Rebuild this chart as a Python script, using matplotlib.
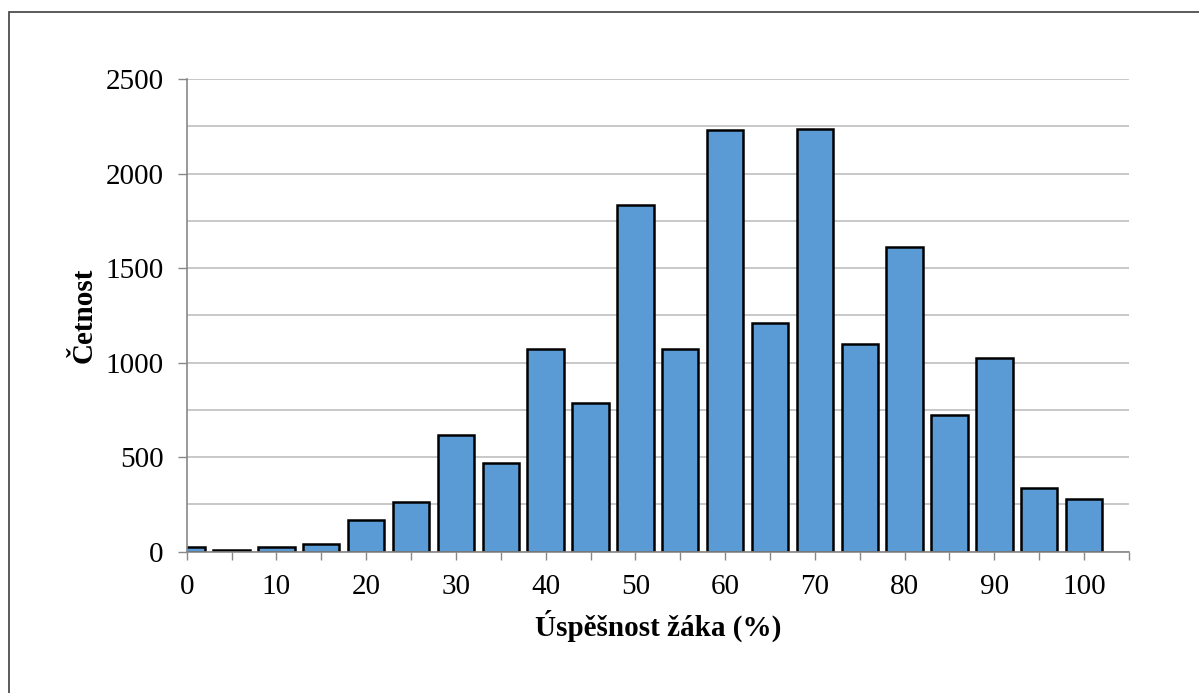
import matplotlib
matplotlib.use("Agg")
import matplotlib.pyplot as plt
import matplotlib.patches as mpatches
import numpy as np

plt.rcParams["font.family"] = ["Liberation Serif", "DejaVu Serif"]

# Score bins (%) and number of students in each
score_bins = [0, 5, 10, 15, 20, 25, 30, 35, 40, 45, 50,
              55, 60, 65, 70, 75, 80, 85, 90, 95, 100]
counts = [26, 10, 23, 39, 167, 262, 618, 468, 1074, 784, 1832,
          1072, 2232, 1212, 2236, 1099, 1612, 723, 1025, 335, 278]

x_major = [0, 10, 20, 30, 40, 50, 60, 70, 80, 90, 100]
y_major = [0, 500, 1000, 1500, 2000, 2500]

C_BAR  = "#5B9BD5"
C_GRID = "#BFBFBF"
C_AXIS = "#888888"

fig = plt.figure(figsize=(11.99, 6.93), dpi=100)
ax = fig.add_axes([0.1557, 0.2039, 0.9416 - 0.1557, 0.886 - 0.2039])

# chart-area frame (only left/top edges fall inside the image)
frame = mpatches.Rectangle((9 / 1199, -0.05), 1.2, 1 - 12 / 693 + 0.05,
                           transform=fig.transFigure, fill=False,
                           edgecolor="#404040", linewidth=1.2, clip_on=False)
fig.patches.append(frame)

ax.bar(score_bins, counts, width=4.05, color=C_BAR, edgecolor="black",
       linewidth=1.8, zorder=3)

ax.set_xlim(0, 105)
ax.set_ylim(0, 2500)

ax.set_yticks(y_major)
ax.set_yticks(np.arange(0, 2501, 250), minor=True)
ax.set_xticks(np.arange(0, 106, 5), minor=True)
ax.set_xticks(x_major)

ax.grid(axis="y", which="both", color=C_GRID, linewidth=1.2, zorder=0)
ax.tick_params(axis="y", which="major", length=6.5, width=1, color=C_AXIS,
               labelsize=21, pad=10)
ax.tick_params(axis="y", which="minor", length=0)
ax.tick_params(axis="x", which="both", length=6, width=1, color=C_AXIS,
               labelsize=21, pad=10)

for s in ["top", "right"]:
    ax.spines[s].set_visible(False)
for s in ["left", "bottom"]:
    ax.spines[s].set_color(C_AXIS)
    ax.spines[s].set_linewidth(1.2)
    ax.spines[s].set_zorder(4)

ax.set_xlabel("Úspěšnost žáka (%)", fontsize=21, fontweight="bold", labelpad=7)
ax.set_ylabel("Četnost", fontsize=21, fontweight="bold", labelpad=6)

fig.savefig("out.png", dpi=100)
